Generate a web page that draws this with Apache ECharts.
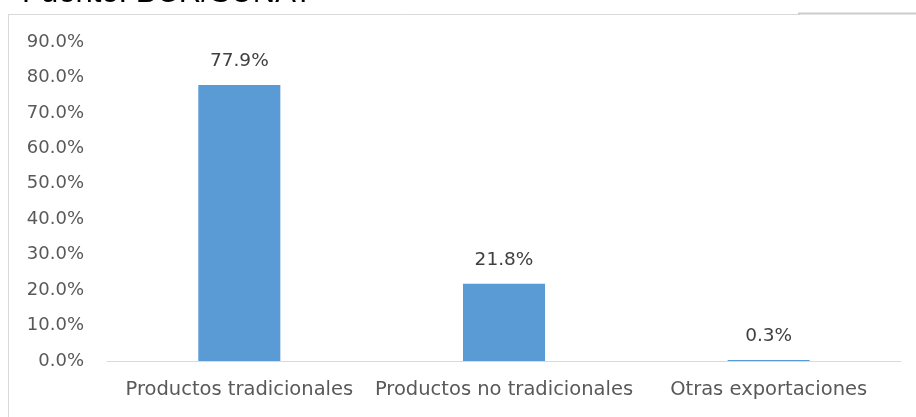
<!DOCTYPE html>
<html><head><meta charset="utf-8">
<script src="https://cdn.jsdelivr.net/npm/echarts@6/dist/echarts.min.js"></script>
<style>html,body{margin:0;padding:0;background:#fff}#c{width:916px;height:417px}</style>
</head><body><div id="c"></div>
<script>
const categories = ['Productos tradicionales', 'Productos no tradicionales', 'Otras exportaciones'];
const values = [77.9, 21.8, 0.3];
const yTicks = {min: 0, max: 90, interval: 10};
const sourceText = 'Fuente: BCR/SUNAT';

const FONT = '"DejaVu Sans", sans-serif';
const chart = echarts.init(document.getElementById('c'), null, {renderer: 'canvas'});
chart.setOption({
  animation: false,
  backgroundColor: '#ffffff',
  graphic: [
    {type: 'line', shape: {x1: 8.5, y1: 14.5, x2: 800, y2: 14.5}, style: {stroke: '#d9d9d9', lineWidth: 1}},
    {type: 'line', shape: {x1: 798, y1: 13.5, x2: 916, y2: 13.5}, style: {stroke: '#cccccc', lineWidth: 2}},
    {type: 'line', shape: {x1: 8.5, y1: 14, x2: 8.5, y2: 417}, style: {stroke: '#d9d9d9', lineWidth: 1}},
    {type: 'text', left: 22, top: -22, style: {text: sourceText, font: '31px "Liberation Sans", Arial, sans-serif', fill: '#000'}}
  ],
  grid: {left: 107, right: 15, top: 42, bottom: 56, containLabel: false},
  xAxis: {
    type: 'category', data: categories,
    axisLine: {lineStyle: {color: '#d9d9d9', width: 1}},
    axisTick: {show: false},
    axisLabel: {color: '#595959', fontFamily: FONT, fontSize: 19.5, margin: 19, interval: 0}
  },
  yAxis: {
    type: 'value', min: yTicks.min, max: yTicks.max, interval: yTicks.interval,
    axisLine: {show: false}, axisTick: {show: false}, splitLine: {show: false},
    axisLabel: {color: '#595959', fontFamily: FONT, fontSize: 18, margin: 23,
      formatter: v => v.toFixed(1) + '%'}
  },
  series: [{
    type: 'bar', data: values, barWidth: '31%',
    itemStyle: {color: '#5b9bd5'},
    label: {show: true, position: 'top', distance: 14, color: '#404040', fontFamily: FONT, fontSize: 18.5,
      formatter: p => p.value.toFixed(1) + '%'}
  }]
});
</script></body></html>
